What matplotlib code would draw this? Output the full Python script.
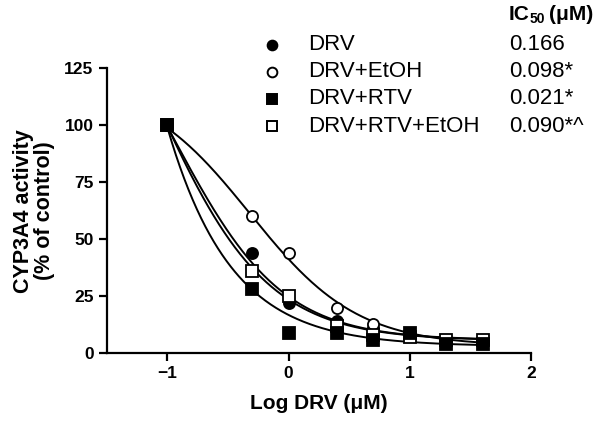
import numpy as np
import matplotlib
matplotlib.use("Agg")
import matplotlib.pyplot as plt

plt.rcParams['font.family'] = ['Liberation Sans', 'DejaVu Sans']

# --- DATA ---
log_drv = [-1.0, -0.3, 0.0, 0.4, 0.7, 1.0, 1.3, 1.6]

# measured points
drv = [100, 44, 22, 14, 11, 8, 6, 5]
drv_etoh = [100, 60, 44, 20, 13, 8, 6, 5]
drv_rtv = [100, 28, 9, 9, 6, 9, 4, 4]
drv_rtv_etoh = [100, 36, 25, 12, 8, 7, 6, 6]

# where the fitted curves pass
curve_x = [-1.0, -0.75, -0.5, -0.3, 0.0, 0.4, 0.7, 1.0, 1.3, 1.6]
drv_curve = [100, 73, 54, 41.5, 23.5, 14, 10, 8, 7, 6.5]
drv_etoh_curve = [100, 86, 72, 60, 44, 21, 12.5, 8.5, 6.5, 5.5]
drv_rtv_curve = [100, 59, 41, 30, 16.7, 8, 5.7, 4.8, 4.2, 4]
drv_rtv_etoh_curve = [100, 71, 51, 39, 23, 13, 9.5, 7.5, 7, 6.5]

labels = ['DRV', 'DRV+EtOH', 'DRV+RTV', 'DRV+RTV+EtOH']
ic50_text = ['0.166', '0.098*', '0.021*', '0.090*^']
markers = ['o', 'o', 's', 's']
filled = [True, False, True, False]


def logistic(x, top, bottom, logic, hill):
    return bottom + (top - bottom) / (1 + 10 ** ((x - logic) * hill))


def grid_best(x, y, tops, bottoms, logics, hills):
    T, B, L, H = np.meshgrid(tops, bottoms, logics, hills, indexing='ij')
    T, B, L, H = T.ravel(), B.ravel(), L.ravel(), H.ravel()
    best = None
    for i in range(0, T.size, 300000):
        sl = slice(i, i + 300000)
        pred = logistic(x, T[sl], B[sl], L[sl], H[sl])
        err = ((pred - y) ** 2).sum(axis=0)
        j = np.argmin(err)
        if best is None or err[j] < best[0]:
            best = (err[j], T[sl][j], B[sl][j], L[sl][j], H[sl][j])
    return best[1:]


def fit_curve(x, y):
    # coarse grid, then a finer grid round the best point
    x = np.asarray(x)[:, None]
    y = np.asarray(y, dtype=float)[:, None]
    t, b, l, h = grid_best(x, y, np.geomspace(100, 3000, 50),
                           np.linspace(0, 10, 21), np.linspace(-3, 0.5, 71),
                           np.linspace(0.3, 3.0, 55))
    return grid_best(x, y, np.linspace(t * 0.85, t * 1.15, 31),
                     np.linspace(b - 0.5, b + 0.5, 11),
                     np.linspace(l - 0.05, l + 0.05, 21),
                     np.linspace(h - 0.05, h + 0.05, 21))


fig = plt.figure(figsize=(6, 4.23), dpi=100)
ax = fig.add_axes([0.178, 0.165, 0.707, 0.674])

series = [drv, drv_etoh, drv_rtv, drv_rtv_etoh]
curves = [drv_curve, drv_etoh_curve, drv_rtv_curve, drv_rtv_etoh_curve]
marker_z = [3, 3, 4, 3]  # filled squares sit on top, as in the original
xs = np.linspace(-1, 1.6, 300)
for vals, cv, m, f, z in zip(series, curves, markers, filled, marker_z):
    p = fit_curve(curve_x, cv)
    ax.plot(xs, logistic(xs, *p), color='black', lw=1.4, zorder=2)
    ax.plot(log_drv, vals, ls='none', marker=m, ms=8,
            mfc='black' if f else 'white', mec='black', mew=1.3, zorder=z)

ax.set_xlim(-1.5, 2)
ax.set_ylim(0, 125)
ax.set_xticks([-1, 0, 1, 2])
ax.set_yticks([0, 25, 50, 75, 100, 125])
for s in ['top', 'right']:
    ax.spines[s].set_visible(False)
for s in ['left', 'bottom']:
    ax.spines[s].set_linewidth(1.6)
ax.tick_params(width=1.6, length=6, labelsize=12.5)
for t in ax.get_xticklabels() + ax.get_yticklabels():
    t.set_fontweight('bold')
ax.set_xlabel('Log DRV (\u03bcM)', fontsize=15, fontweight='bold', labelpad=9)
ax.set_ylabel('CYP3A4 activity\n(% of control)', fontsize=15.5,
              fontweight='bold', labelpad=7, linespacing=1.0)

# legend with IC50 column
hy = 0.966
fig.text(0.848, hy, 'IC', fontsize=15, fontweight='bold', va='center', ha='left')
fig.text(0.882, hy - 0.012, '50', fontsize=10, fontweight='bold',
         va='center', ha='left')
fig.text(0.915, hy, '(\u03bcM)', fontsize=15, fontweight='bold',
         va='center', ha='left')
row_y = [0.894, 0.830, 0.766, 0.702]
for yy, lab, val, m, f in zip(row_y, labels, ic50_text, markers, filled):
    fig.lines.append(plt.Line2D([0.453], [yy], transform=fig.transFigure,
                                marker=m, ms=7, mfc='black' if f else 'white',
                                mec='black', mew=1.4, ls='none'))
    fig.text(0.513, yy, lab, fontsize=16, va='center', ha='left')
    fig.text(0.848, yy, val, fontsize=16, va='center', ha='left')

fig.savefig('out.png', dpi=100)
